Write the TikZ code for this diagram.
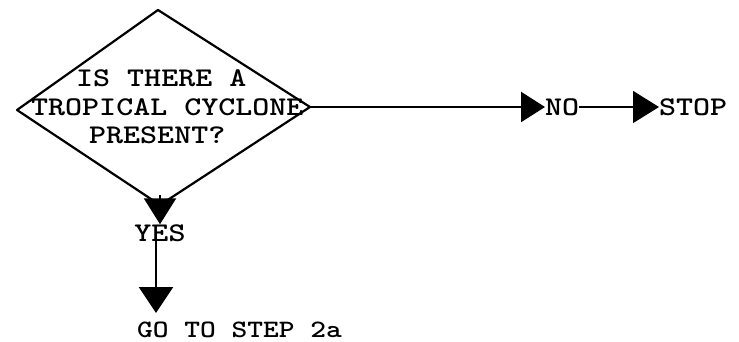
\documentclass[tikz,border=0pt]{standalone}
\usepackage{graphicx}
\usetikzlibrary{arrows.meta}
% widened typewriter lettering
\newcommand{\tw}[1]{\scalebox{1.2}[1]{#1}}
\begin{document}
\begin{tikzpicture}[x=1pt,y=-1pt,
  lbl/.style={inner sep=0pt,font=\ttfamily\bfseries\fontsize{27}{30}\selectfont},
  small/.style={inner sep=0pt,font=\ttfamily\bfseries\fontsize{25}{28}\selectfont},
  flow/.style={line width=2.4pt},
  tipA/.style={-{Triangle[length=24pt,width=30pt]}},
  tipB/.style={-{Triangle[length=26pt,width=32pt]}}]
\useasboundingbox (0,0) rectangle (739,342);
% decision diamond
\coordinate (dT) at (158,10);
\coordinate (dR) at (310,107);
\coordinate (dB) at (160,205);
\coordinate (dL) at (17,110);
\draw[line width=2.2pt,line join=round] (dT) -- (dR) -- (dB) -- (dL) -- cycle;
\node[lbl,anchor=west] (q1) at (76,78) {\tw{IS THERE A}};
\node[lbl,anchor=west] (q2) at (31,107) {\tw{TROPICAL CYCLONE}};
\node[lbl,anchor=west] (q3) at (89,135) {\tw{PRESENT?}};
% outcomes
\node[lbl,anchor=west] (no) at (545,107) {\tw{NO}};
\node[lbl,anchor=west] (stop) at (659,107) {\tw{STOP}};
\node[lbl] (yes) at (160,233) {\tw{YES}};
\node[small,anchor=north west] (go) at (137,322) {\tw{GO TO STEP 2a}};
% connectors
\draw[flow,tipA] (dR) -- (no.west);
\draw[line width=1.5pt,tipB] (no.east) -- (stop.west);
\coordinate (dStart) at (160,195);
\draw[flow,tipB] (dStart) -- (yes.north);
\coordinate (yStart) at (156,234);
\coordinate (goTip) at (156,313);
\draw[flow,-{Triangle[length=26pt,width=34pt]}] (yStart) -- (goTip);
\end{tikzpicture}
\end{document}
